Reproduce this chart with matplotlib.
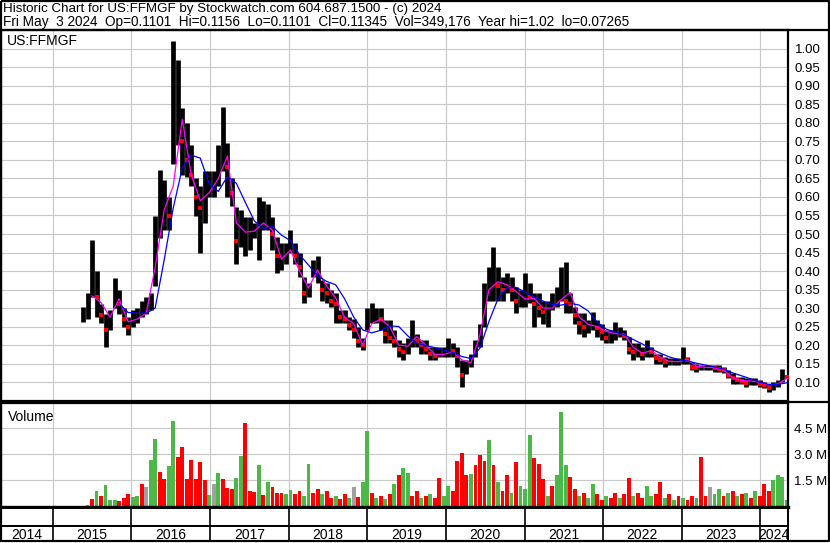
import numpy as np
import pandas as pd
import matplotlib
matplotlib.use("Agg")
import matplotlib.pyplot as plt
from matplotlib.ticker import FuncFormatter

plt.rcParams['font.family'] = ['Liberation Sans', 'DejaVu Sans']
plt.rcParams['font.size'] = 9

hi = [
    0.304, 0.34, 0.484, 0.40, 0.31, 0.285, 0.295, 0.38, 0.35, 0.30,
    0.277, 0.295, 0.30, 0.32, 0.33, 0.34, 0.55, 0.673, 0.646, 0.60,
    1.02, 0.97, 0.84, 0.80, 0.74, 0.65, 0.63, 0.67, 0.67, 0.67,
    0.74, 0.844, 0.745, 0.65, 0.574, 0.565, 0.547, 0.547, 0.53, 0.60,
    0.59, 0.58, 0.547, 0.493, 0.475, 0.475, 0.51, 0.475, 0.448, 0.385,
    0.367, 0.43, 0.44, 0.376, 0.367, 0.35, 0.34, 0.294, 0.294, 0.277,
    0.27, 0.25, 0.22, 0.30, 0.313, 0.30, 0.30, 0.268, 0.268, 0.24,
    0.214, 0.205, 0.22, 0.268, 0.23, 0.214, 0.214, 0.196, 0.196, 0.196,
    0.196, 0.218, 0.205, 0.196, 0.16, 0.16, 0.177, 0.214, 0.258, 0.367,
    0.412, 0.466, 0.412, 0.385, 0.394, 0.385, 0.358, 0.35, 0.394, 0.367,
    0.34, 0.34, 0.32, 0.32, 0.34, 0.358, 0.412, 0.425, 0.34, 0.304,
    0.286, 0.286, 0.268, 0.29, 0.268, 0.258, 0.24, 0.24, 0.263, 0.25,
    0.24, 0.222, 0.205, 0.205, 0.196, 0.213, 0.196, 0.177, 0.177, 0.168,
    0.164, 0.164, 0.164, 0.195, 0.168, 0.155, 0.15, 0.146, 0.146, 0.146,
    0.146, 0.146, 0.142, 0.133, 0.124, 0.114, 0.114, 0.11, 0.11, 0.11,
    0.105, 0.101, 0.096, 0.101, 0.105, 0.135, 0.1156]
lo = [
    0.263, 0.27, 0.33, 0.277, 0.26, 0.196, 0.24, 0.30, 0.285, 0.25,
    0.227, 0.25, 0.26, 0.277, 0.285, 0.295, 0.36, 0.49, 0.51, 0.51,
    0.69, 0.74, 0.66, 0.655, 0.63, 0.55, 0.45, 0.53, 0.60, 0.60,
    0.63, 0.67, 0.60, 0.575, 0.42, 0.465, 0.44, 0.457, 0.49, 0.43,
    0.51, 0.51, 0.457, 0.394, 0.403, 0.42, 0.448, 0.42, 0.385, 0.313,
    0.33, 0.385, 0.367, 0.32, 0.313, 0.304, 0.26, 0.259, 0.259, 0.24,
    0.22, 0.196, 0.187, 0.24, 0.259, 0.26, 0.24, 0.205, 0.205, 0.196,
    0.168, 0.16, 0.177, 0.196, 0.196, 0.177, 0.177, 0.16, 0.16, 0.168,
    0.168, 0.168, 0.168, 0.14, 0.087, 0.123, 0.14, 0.168, 0.196, 0.25,
    0.32, 0.32, 0.32, 0.32, 0.34, 0.32, 0.286, 0.304, 0.304, 0.313,
    0.25, 0.277, 0.258, 0.25, 0.295, 0.304, 0.32, 0.286, 0.286, 0.258,
    0.23, 0.222, 0.232, 0.24, 0.222, 0.213, 0.205, 0.205, 0.213, 0.222,
    0.213, 0.177, 0.16, 0.168, 0.16, 0.168, 0.168, 0.15, 0.15, 0.141,
    0.146, 0.146, 0.146, 0.15, 0.15, 0.132, 0.128, 0.132, 0.132, 0.132,
    0.128, 0.128, 0.124, 0.11, 0.096, 0.096, 0.096, 0.087, 0.092, 0.092,
    0.087, 0.083, 0.073, 0.078, 0.087, 0.10, 0.1101]
cl = [
    0.28, 0.30, 0.40, 0.33, 0.28, 0.24, 0.27, 0.34, 0.31, 0.27,
    0.25, 0.27, 0.28, 0.30, 0.31, 0.31, 0.50, 0.56, 0.58, 0.55,
    0.85, 0.85, 0.75, 0.70, 0.66, 0.60, 0.57, 0.60, 0.63, 0.64,
    0.70, 0.75, 0.68, 0.61, 0.48, 0.50, 0.50, 0.51, 0.51, 0.55,
    0.55, 0.55, 0.50, 0.44, 0.44, 0.45, 0.48, 0.44, 0.41, 0.34,
    0.35, 0.40, 0.40, 0.35, 0.34, 0.32, 0.31, 0.275, 0.27, 0.255,
    0.24, 0.21, 0.20, 0.27, 0.28, 0.28, 0.27, 0.23, 0.22, 0.21,
    0.19, 0.18, 0.20, 0.22, 0.21, 0.20, 0.19, 0.175, 0.17, 0.18,
    0.18, 0.19, 0.185, 0.17, 0.12, 0.14, 0.16, 0.19, 0.23, 0.31,
    0.37, 0.38, 0.36, 0.35, 0.37, 0.35, 0.32, 0.33, 0.34, 0.33,
    0.31, 0.30, 0.29, 0.29, 0.31, 0.33, 0.37, 0.32, 0.31, 0.28,
    0.26, 0.25, 0.25, 0.26, 0.245, 0.235, 0.22, 0.22, 0.235, 0.235,
    0.225, 0.19, 0.18, 0.185, 0.175, 0.19, 0.18, 0.165, 0.16, 0.155,
    0.155, 0.155, 0.155, 0.165, 0.16, 0.14, 0.138, 0.138, 0.138, 0.138,
    0.137, 0.136, 0.132, 0.12, 0.11, 0.105, 0.104, 0.098, 0.10, 0.10,
    0.095, 0.092, 0.085, 0.09, 0.097, 0.12, 0.11345]

# moving averages, read at every second sample date
nan = np.nan
ma_fast = [
    nan, 0.333, 0.315, 0.275, 0.325, 0.263, 0.27, 0.286, 0.41, 0.565,
    0.63, 0.81, 0.66, 0.59, 0.612, 0.65, 0.71, 0.53, 0.505, 0.508,
    0.53, 0.51, 0.432, 0.457, 0.40, 0.354, 0.403, 0.36, 0.328, 0.275,
    0.258, 0.20, 0.258, 0.27, 0.25, 0.20, 0.197, 0.223, 0.20, 0.175,
    0.175, 0.182, 0.16, 0.152, 0.228, 0.35, 0.371, 0.363, 0.345, 0.324,
    0.326, 0.30, 0.30, 0.323, 0.342, 0.276, 0.256, 0.25, 0.237, 0.231,
    0.23, 0.194, 0.178, 0.185, 0.167, 0.156, 0.155, 0.161, 0.143, 0.14,
    0.139, 0.133, 0.112, 0.104, 0.103, 0.10, 0.092, 0.095, 0.11]
ma_slow = [
    nan, nan, nan, nan, 0.312, 0.288, 0.286, 0.286, 0.30, 0.43,
    0.57, 0.678, 0.713, 0.705, 0.635, 0.615, 0.655, 0.637, 0.585, 0.535,
    0.515, 0.52, 0.497, 0.482, 0.444, 0.416, 0.387, 0.372, 0.363, 0.325,
    0.276, 0.241, 0.233, 0.24, 0.252, 0.25, 0.225, 0.205, 0.199, 0.193,
    0.187, 0.18, 0.169, 0.164, 0.192, 0.264, 0.325, 0.355, 0.356, 0.343,
    0.33, 0.319, 0.309, 0.308, 0.313, 0.308, 0.292, 0.262, 0.243, 0.235,
    0.228, 0.215, 0.203, 0.19, 0.178, 0.168, 0.161, 0.157, 0.151, 0.146,
    0.141, 0.135, 0.125, 0.117, 0.109, 0.10, 0.094, 0.094, 0.098]

# volume in millions of shares, with bar colour (r=down, g=up, n=unchanged)
vol_m = [
    0.05, 0.10, 0.46, 0.90, 0.60, 1.24, 0.40, 0.40, 0.30, 0.50,
    0.72, 0.55, 0.60, 1.30, 1.10, 2.69, 3.87, 2.00, 1.60, 2.34,
    4.93, 2.87, 3.45, 1.60, 2.68, 1.60, 2.59, 1.53, 0.66, 1.30,
    1.91, 1.57, 1.05, 1.00, 1.62, 2.90, 4.84, 0.90, 0.85, 2.40,
    0.66, 1.44, 1.14, 0.80, 0.80, 0.70, 0.95, 0.70, 0.90, 0.60,
    2.44, 0.80, 1.00, 0.70, 0.90, 0.50, 0.60, 0.45, 0.70, 0.50,
    1.10, 0.55, 1.40, 4.35, 0.80, 0.50, 0.60, 0.45, 0.70, 1.30,
    1.80, 2.20, 1.95, 0.60, 0.90, 0.50, 0.60, 0.70, 0.50, 1.64,
    0.60, 1.20, 0.90, 2.65, 3.06, 1.80, 1.90, 2.40, 2.96, 2.60,
    3.83, 2.38, 1.40, 0.90, 1.80, 0.80, 2.57, 1.20, 1.00, 4.12,
    2.80, 2.48, 1.60, 0.60, 1.20, 1.80, 5.44, 2.38, 1.70, 1.00,
    0.60, 0.80, 0.50, 1.30, 0.70, 0.40, 0.60, 0.50, 0.80, 0.50,
    0.70, 1.64, 0.60, 0.80, 0.50, 1.20, 0.60, 0.70, 1.40, 0.50,
    0.70, 0.40, 0.60, 0.50, 0.40, 0.60, 0.50, 2.86, 0.60, 1.12,
    0.70, 1.00, 0.60, 0.80, 0.90, 0.60, 0.70, 0.80, 0.50, 0.90,
    0.60, 1.30, 0.90, 1.50, 1.80, 1.70, 0.35]
vol_col = ("ggrgrgggrr" "rggrnggrrg" "grrrrrrrgn" "grrrggrrrg" "rgrrrggrrg"
           "grrgrrgrrg" "nrggrgrgrg" "rggrrgrgrr" "ggrrrrgrrr" "grgrrgrggg"
           "rrrgrgggrr" "grggrrgrrg" "rrgrrggrrg" "rgrgrrgrrn" "ggrgrgrgrg"
           "rrrgggg")

price_ticks = np.arange(0.10, 1.001, 0.05)
vol_ticks = [1.5, 3.0, 4.5]

header1 = "Historic Chart for US:FFMGF by Stockwatch.com 604.687.1500 - (c) 2024"
header2 = ("Fri May  3 2024  Op=0.1101  Hi=0.1156  Lo=0.1101  Cl=0.11345  "
           "Vol=349,176  Year hi=1.02  lo=0.07265")

dates = pd.date_range("2015-05-21", "2024-05-03", periods=len(cl))
ma_dates = dates[::2]
hi, lo, cl = np.array(hi), np.array(lo), np.array(cl)

# ---- layout (pixel based) ----
W, H = 830, 543
fig = plt.figure(figsize=(W / 100, H / 100), dpi=100)


def px_axes(left, top, right, bottom, **kw):
    return fig.add_axes([left / W, 1 - bottom / H, (right - left) / W, (bottom - top) / H], **kw)


x0, x1 = pd.Timestamp("2014-05-05"), pd.Timestamp("2024-05-09")
years = pd.date_range("2015-01-01", "2024-01-01", freq="YS")
grid = "#c8c8c8"

# price panel
ax = px_axes(1, 30, 788, 401)
ax.vlines(dates, lo, hi, color="black", lw=3.4, zorder=2)
down = cl < np.r_[cl[0], cl[:-1]]
ax.plot(dates[down], cl[down], ls="none", marker="s", ms=2.2, mew=0, color="red", zorder=3)
ax.plot(ma_dates, ma_fast, color="#ff00ff", lw=0.9, zorder=4)
ax.plot(ma_dates, ma_slow, color="#0000ff", lw=0.9, zorder=4)
ax.set_xlim(x0, x1)
ax.set_ylim(0.049, 1.051)
ax.set_yticks(price_ticks)
ax.yaxis.tick_right()
ax.yaxis.set_major_formatter(FuncFormatter(lambda v, p: f"{v:.2f}"))
ax.tick_params(axis="y", length=0, pad=5, labelsize=9.5)
ax.set_xticks(years)
ax.tick_params(axis="x", length=0, labelbottom=False)
ax.grid(True, color=grid, lw=0.8)
ax.set_axisbelow(True)
for s in ax.spines.values():
    s.set_linewidth(1.6)
ax.text(0.008, 0.988, "US:FFMGF", transform=ax.transAxes, fontsize=10,
        va="top", ha="left")

# volume panel
colmap = {"r": "#ff0000", "g": "#4cb848", "n": "#a0a0a0"}
axv = px_axes(1, 403, 788, 506.5)
axv.bar(dates, vol_m, width=18, color=[colmap[c] for c in vol_col], zorder=2)
axv.set_xlim(x0, x1)
axv.set_ylim(0, 5.97)
axv.set_yticks(vol_ticks)
axv.yaxis.tick_right()
axv.yaxis.set_major_formatter(FuncFormatter(lambda v, p: f"{v:.1f} M"))
axv.tick_params(axis="y", length=0, pad=4, labelsize=9.5)
axv.set_xticks(years)
axv.tick_params(axis="x", length=0, labelbottom=False)
axv.grid(True, color=grid, lw=0.8)
axv.set_axisbelow(True)
for s in axv.spines.values():
    s.set_linewidth(1.6)
axv.spines["bottom"].set_linewidth(2.4)
axv.text(0.009, 0.93, "Volume", transform=axv.transAxes, fontsize=10, va="top", ha="left")

# year band and year labels
band = px_axes(1, 508, 788, 526)
lab = px_axes(1, 526, 788, 541)
edges = [x0] + list(years) + [x1]
for a in (band, lab):
    a.set_xlim(x0, x1)
    a.set_ylim(0, 1)
    a.set_xticks([])
    a.set_yticks([])
    a.vlines(years, 0, 1, color="black", lw=1.2)
    for s in a.spines.values():
        s.set_linewidth(1.4)
for a_, b_ in zip(edges[:-1], edges[1:]):
    mid = a_ + (b_ - a_) / 2
    lab.text(mid, 0.38, str(a_.year), ha="center", va="center", fontsize=10)

# frame and header
fo = fig.add_axes([0, 0, 1, 1], zorder=10)
fo.set_xlim(0, W)
fo.set_ylim(H, 0)
fo.axis("off")
fo.patch.set_alpha(0)
frame_kw = dict(color="black", lw=1.6, solid_capstyle="butt")
fo.plot([0.8, 828.8, 828.8, 0.8, 0.8], [0.8, 0.8, 541, 541, 0.8], **frame_kw)
fo.plot([0, 829], [29.5, 29.5], **frame_kw)
fo.plot([788, 829], [401.5, 401.5], **frame_kw)
fo.text(3, 9, header1, fontsize=9.6, va="center", ha="left")
fo.text(3, 22, header2, fontsize=9.8, va="center", ha="left")

fig.savefig("out.png", dpi=100)
